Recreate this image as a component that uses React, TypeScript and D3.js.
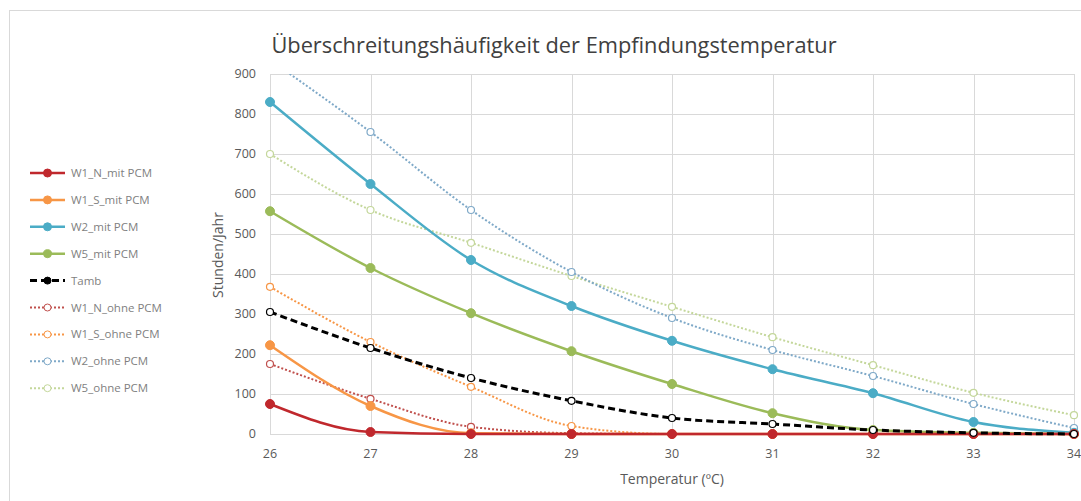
import React, { useEffect, useRef } from "react";
import * as d3 from "d3";

const temps = [26, 27, 28, 29, 30, 31, 32, 33, 34];
const yTicks = [0, 100, 200, 300, 400, 500, 600, 700, 800, 900];

const w1nMit = [75, 5, 0, 0, 0, 0, 0, 0, 0];
const w1sMit = [222, 70, 2, 0, 0, 0, 0, 0, 0];
const w2Mit = [830, 625, 435, 320, 233, 162, 102, 30, 3];
const w5Mit = [557, 415, 302, 207, 125, 52, 10, 3, 0];
const tamb = [305, 215, 140, 83, 40, 25, 10, 3, 0];
const w1nOhne = [175, 88, 18, 2, 0, 0, 0, 0, 0];
const w1sOhne = [368, 230, 118, 20, 0, 0, 0, 0, 0];
const w2Ohne = [935, 755, 560, 405, 290, 210, 145, 75, 15];
const w5Ohne = [700, 560, 478, 395, 318, 242, 172, 103, 47];

const seriesNames = [
  "W1_N_mit PCM",
  "W1_S_mit PCM",
  "W2_mit PCM",
  "W5_mit PCM",
  "Tamb",
  "W1_N_ohne PCM",
  "W1_S_ohne PCM",
  "W2_ohne PCM",
  "W5_ohne PCM",
];

export default function App() {
  const ref = useRef<SVGSVGElement>(null);

  useEffect(() => {
    const width = 1081,
      height = 501;
    const svg = d3.select(ref.current);
    svg.selectAll("*").remove();
    svg.attr("width", width).attr("height", height);

    const font = "'Open Sans', sans-serif";
    const grid = "#d9d9d9";
    const txt = "#595959";

    // chart border (runs off the right/bottom)
    svg
      .append("rect")
      .attr("x", 9.5)
      .attr("y", 10.5)
      .attr("width", 1100)
      .attr("height", 600)
      .attr("fill", "#fff")
      .attr("stroke", grid);

    const x = d3.scaleLinear().domain([26, 34]).range([270, 1074]);
    const y = d3.scaleLinear().domain([0, 900]).range([434, 74]);

    svg
      .append("defs")
      .append("clipPath")
      .attr("id", "plot")
      .append("rect")
      .attr("x", 260)
      .attr("y", 74)
      .attr("width", 830)
      .attr("height", 380);

    const g = svg.append("g");
    g.selectAll(".hg")
      .data(yTicks)
      .enter()
      .append("line")
      .attr("x1", x(26))
      .attr("x2", x(34))
      .attr("y1", (d) => Math.round(y(d)) + 0.5)
      .attr("y2", (d) => Math.round(y(d)) + 0.5)
      .attr("stroke", grid);
    g.selectAll(".vg")
      .data(temps)
      .enter()
      .append("line")
      .attr("x1", (d) => Math.round(x(d)) + 0.5)
      .attr("x2", (d) => Math.round(x(d)) + 0.5)
      .attr("y1", y(900))
      .attr("y2", y(0))
      .attr("stroke", grid);

    g.selectAll(".yl")
      .data(yTicks)
      .enter()
      .append("text")
      .attr("x", 256)
      .attr("y", (d) => y(d))
      .attr("dy", "0.35em")
      .attr("text-anchor", "end")
      .attr("font-family", font)
      .attr("font-size", 12.5)
      .attr("fill", txt)
      .text((d) => d);
    g.selectAll(".xl")
      .data(temps)
      .enter()
      .append("text")
      .attr("x", (d) => x(d))
      .attr("y", 458)
      .attr("text-anchor", "middle")
      .attr("font-family", font)
      .attr("font-size", 12.5)
      .attr("fill", txt)
      .text((d) => d);

    svg
      .append("text")
      .attr("x", 554)
      .attr("y", 53)
      .attr("text-anchor", "middle")
      .attr("font-family", font)
      .attr("font-size", 21.8)
      .attr("fill", "#404040")
      .text("Überschreitungshäufigkeit der Empfindungstemperatur");
    svg
      .append("text")
      .attr("x", 672)
      .attr("y", 484)
      .attr("text-anchor", "middle")
      .attr("font-family", font)
      .attr("font-size", 14)
      .attr("fill", txt)
      .text("Temperatur (ºC)");
    svg
      .append("text")
      .attr("transform", "translate(223,255) rotate(-90)")
      .attr("text-anchor", "middle")
      .attr("font-family", font)
      .attr("font-size", 14)
      .attr("fill", txt)
      .text("Stunden/Jahr");

    const series = [
      { vals: w1nMit, color: "#c0282d", dash: null, w: 2.5, open: false },
      { vals: w1sMit, color: "#f79646", dash: null, w: 2.5, open: false },
      { vals: w2Mit, color: "#4bacc6", dash: null, w: 2.5, open: false },
      { vals: w5Mit, color: "#9bbb59", dash: null, w: 2.5, open: false },
      { vals: tamb, color: "#000000", dash: "7,4", w: 3, open: true },
      { vals: w1nOhne, color: "#c0504d", dash: "2,2", w: 2, open: true },
      { vals: w1sOhne, color: "#f79646", dash: "2,2", w: 2, open: true },
      { vals: w2Ohne, color: "#7fa9c8", dash: "2,2", w: 2, open: true },
      { vals: w5Ohne, color: "#c4d79b", dash: "2,2", w: 2, open: true },
    ];

    const line = d3
      .line<number>()
      .x((_, i) => x(temps[i]))
      .y((d) => y(d))
      .curve(d3.curveMonotoneX);

    const plot = svg.append("g").attr("clip-path", "url(#plot)");
    // draw ohne first, then mit, Tamb on top
    const order = [8, 7, 6, 5, 3, 2, 1, 0, 4];
    order.forEach((si) => {
      const s = series[si];
      const sg = plot.append("g");
      sg.append("path")
        .attr("d", line(s.vals))
        .attr("fill", "none")
        .attr("stroke", s.color)
        .attr("stroke-width", s.w)
        .attr("stroke-dasharray", s.dash);
      sg.selectAll("circle")
        .data(s.vals)
        .enter()
        .append("circle")
        .attr("cx", (_, i) => x(temps[i]))
        .attr("cy", (d) => y(d))
        .attr("r", s.open ? 3.5 : 4.5)
        .attr("fill", s.open ? "#fff" : s.color)
        .attr("stroke", s.color)
        .attr("stroke-width", s.open ? 1.2 : 1);
    });

    // legend
    const lg = svg.append("g");
    series.forEach((s, i) => {
      const ly = 173 + i * 26.9;
      lg.append("line")
        .attr("x1", 30)
        .attr("x2", 65)
        .attr("y1", ly)
        .attr("y2", ly)
        .attr("stroke", s.color)
        .attr("stroke-width", s.w)
        .attr("stroke-dasharray", s.dash);
      lg.append("circle")
        .attr("cx", 47.5)
        .attr("cy", ly)
        .attr("r", s.open ? 3.5 : 4)
        .attr("fill", s.open && i !== 4 ? "#fff" : s.color)
        .attr("stroke", s.color);
      lg.append("text")
        .attr("x", 71)
        .attr("y", ly)
        .attr("dy", "0.35em")
        .attr("font-family", font)
        .attr("font-size", 11.5)
        .attr("fill", "#7f7f7f")
        .text(seriesNames[i]);
    });
  }, []);

  return (
    <div style={{ position: "fixed", left: 0, top: 0, background: "#fff" }}>
      <svg ref={ref} style={{ display: "block" }}></svg>
    </div>
  );
}
